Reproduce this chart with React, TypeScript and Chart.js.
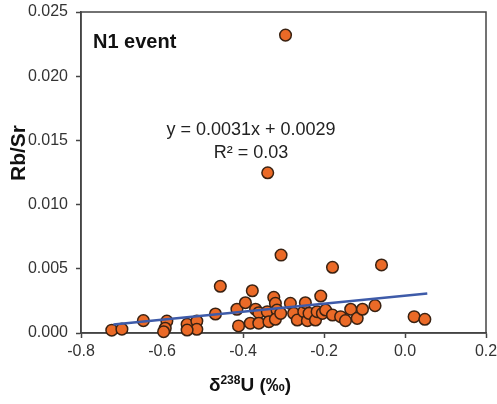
import React, { useEffect, useRef } from "react";
import { Chart, registerables } from "chart.js";

Chart.register(...registerables);

const deltaU: number[] = [
  -0.724, -0.699, -0.646, -0.588, -0.592, -0.596, -0.538, -0.514, -0.514, -0.538,
  -0.468, -0.456, -0.415, -0.411, -0.394, -0.377, -0.382, -0.369, -0.361, -0.361,
  -0.340, -0.336, -0.324, -0.320, -0.316, -0.320, -0.307, -0.283, -0.275, -0.266,
  -0.250, -0.246, -0.241, -0.237, -0.221, -0.217, -0.208, -0.204, -0.196, -0.179,
  -0.159, -0.147, -0.134, -0.118, -0.105, -0.074, 0.0225, 0.049, -0.179, -0.306,
  -0.058, -0.295, -0.339,
];
const rbSr: number[] = [
  0.00022, 0.00030, 0.00096, 0.00093, 0.00037, 0.00010, 0.00068, 0.00093, 0.00029, 0.00023,
  0.00148, 0.00364, 0.00185, 0.00055, 0.00236, 0.00329, 0.00076, 0.00185, 0.00158, 0.00076,
  0.00166, 0.00088, 0.00278, 0.00231, 0.00179, 0.00107, 0.00153, 0.00231, 0.00153, 0.00101,
  0.00166, 0.00236, 0.00096, 0.00153, 0.00101, 0.00166, 0.00288, 0.00153, 0.00179, 0.00140,
  0.00127, 0.00096, 0.00185, 0.00114, 0.00185, 0.00213, 0.00127, 0.00107, 0.00512, 0.00607,
  0.00530, 0.02320, 0.01248,
];
const trendX: number[] = [-0.72, 0.055];
const trendY: number[] = [0.00067, 0.00307];

const xTicksRange = { min: -0.8, max: 0.2, step: 0.2 };
const yTicksRange = { min: 0, max: 0.025, step: 0.005 };

const eqText = "y = 0.0031x + 0.0029";
const r2Text = "R² = 0.03";
const panelLabel = "N1 event";
const yTitle = "Rb/Sr";

const FONT = "'Liberation Sans', Arial, sans-serif";

const annotations = {
  id: "annotations",
  beforeDatasetsDraw(chart: any) {
    const { ctx, chartArea } = chart;
    ctx.save();
    ctx.strokeStyle = "#444";
    ctx.lineWidth = 1.5;
    ctx.strokeRect(chartArea.left, chartArea.top, chartArea.right - chartArea.left, chartArea.bottom - chartArea.top);
    ctx.restore();
  },
  afterDraw(chart: any) {
    const { ctx } = chart;
    ctx.save();
    ctx.fillStyle = "#111";
    ctx.textBaseline = "alphabetic";
    ctx.font = `bold 20px ${FONT}`;
    ctx.textAlign = "left";
    ctx.fillText(panelLabel, 93, 48);

    ctx.fillStyle = "#222";
    ctx.font = `18px ${FONT}`;
    ctx.textAlign = "center";
    ctx.fillText(eqText, 251, 135);
    ctx.fillText(r2Text, 251, 158);

    // y title
    ctx.save();
    ctx.fillStyle = "#111";
    ctx.translate(19, 153);
    ctx.rotate(-Math.PI / 2);
    ctx.font = `bold 21px ${FONT}`;
    ctx.textAlign = "center";
    ctx.textBaseline = "middle";
    ctx.fillText(yTitle, 0, 0);
    ctx.restore();

    // x title with superscript
    ctx.fillStyle = "#111";
    ctx.textAlign = "left";
    ctx.textBaseline = "alphabetic";
    const big = `bold 19px ${FONT}`;
    const small = `bold 12px ${FONT}`;
    ctx.font = big;
    const w1 = ctx.measureText("δ").width;
    const w3 = ctx.measureText("U (‰)").width;
    ctx.font = small;
    const w2 = ctx.measureText("238").width;
    const total = w1 + w2 + w3;
    let x = 250 - total / 2;
    const base = 391;
    ctx.font = big;
    ctx.fillText("δ", x, base);
    x += w1;
    ctx.font = small;
    ctx.fillText("238", x, base - 7);
    x += w2;
    ctx.font = big;
    ctx.fillText("U (‰)", x, base);
    ctx.restore();
  },
};

export default function App() {
  const ref = useRef<HTMLCanvasElement | null>(null);
  useEffect(() => {
    if (!ref.current) return;
    const points = deltaU.map((v, i) => ({ x: v, y: rbSr[i] }));
    const trend = trendX.map((v, i) => ({ x: v, y: trendY[i] }));
    const chart = new Chart(ref.current, {
      type: "scatter",
      data: {
        datasets: [
          {
            type: "line",
            data: trend,
            borderColor: "#3E5BA9",
            borderWidth: 2.5,
            pointRadius: 0,
            fill: false,
            clip: false,
          } as any,
          {
            data: points,
            backgroundColor: "#EB6A27",
            borderColor: "#3A2212",
            borderWidth: 1.5,
            pointRadius: 5.8,
            clip: false,
          } as any,
        ],
      },
      options: {
        animation: false,
        responsive: false,
        layout: { padding: { left: 0, top: 12, right: 11, bottom: 0 } },
        plugins: { legend: { display: false }, tooltip: { enabled: false } },
        scales: {
          x: {
            type: "linear",
            min: xTicksRange.min,
            max: xTicksRange.max,
            ticks: {
              stepSize: xTicksRange.step,
              color: "#333",
              font: { family: FONT, size: 16 },
              padding: 4,
              maxRotation: 0,
              callback: (v: any) => Number(v).toFixed(1),
            },
            grid: { display: true, drawOnChartArea: false, tickLength: 5, color: "#444", tickWidth: 1.5 },
            border: { display: true, color: "#444", width: 1.5 },
            afterFit: (s: any) => { s.height = 71; s.paddingLeft = 0; s.paddingRight = 0; },
          },
          y: {
            type: "linear",
            min: yTicksRange.min,
            max: yTicksRange.max,
            ticks: {
              stepSize: yTicksRange.step,
              color: "#333",
              font: { family: FONT, size: 16 },
              padding: 8,
              callback: (v: any) => Number(v).toFixed(3),
            },
            grid: { display: true, drawOnChartArea: false, tickLength: 5, color: "#444", tickWidth: 1.5 },
            border: { display: true, color: "#444", width: 1.5 },
            afterFit: (s: any) => { s.width = 81; s.paddingTop = 0; s.paddingBottom = 0; },
          },
        },
      },
      plugins: [annotations],
    });
    return () => chart.destroy();
  }, []);
  return (
    <div style={{ position: "absolute", left: 0, top: 0, width: 497, height: 404, background: "#fff" }}>
      <canvas ref={ref} width={497} height={404} style={{ display: "block" }} />
    </div>
  );
}
